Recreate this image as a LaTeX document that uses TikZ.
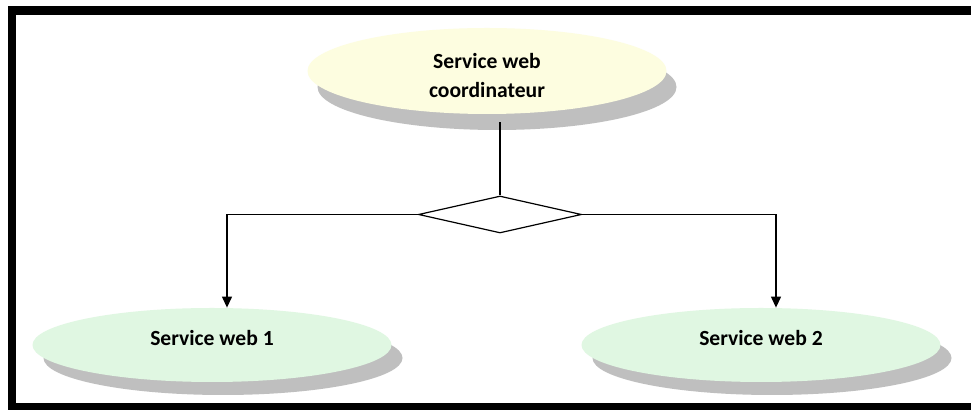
\documentclass[tikz,border=0pt]{standalone}
\usepackage{fontspec}
\setmainfont{Carlito}
\usetikzlibrary{shapes.geometric,shadows,arrows.meta}
\definecolor{coordfill}{RGB}{253,253,224}
\definecolor{servfill}{RGB}{224,247,226}
\definecolor{shadowgray}{RGB}{191,191,191}
\tikzset{
  svc/.style={ellipse, draw=none, inner sep=0pt, align=center,
    font=\fontsize{10.8}{14.5}\selectfont\bfseries},
  coord/.style={svc, fill=coordfill, minimum width=179.5pt, minimum height=43pt,
    drop shadow={shadow xshift=5pt, shadow yshift=-8pt, fill=shadowgray, opacity=1}},
  leaf/.style={svc, fill=servfill, minimum width=179.5pt, minimum height=37pt,
    text depth=7pt,
    drop shadow={shadow xshift=5.5pt, shadow yshift=-6.5pt, fill=shadowgray, opacity=1}},
  gate/.style={diamond, draw, line width=0.6pt, fill=white, inner sep=0pt,
    minimum width=81.5pt, minimum height=18.5pt},
  link/.style={line width=0.6pt},
  arrowlink/.style={link, -{Triangle[width=5pt,length=5.5pt]}}
}
\begin{document}
\begin{tikzpicture}[x=0.5pt,y=-0.5pt]
  \useasboundingbox (0,0) rectangle (971,410);
  \fill[white] (0,0) rectangle (971,410);
  % outer frame
  \draw[line width=4.4pt] (12,10.5) rectangle (1000,407.5);

  \node[coord] (top) at (487,71) {\rule{0pt}{11.6pt}Service web\\coordinateur};
  \node[gate] (dia) at (500,214.5) {};
  \node[leaf] (w1) at (212,345) {Service web 1};
  \node[leaf] (w2) at (761,345) {Service web 2};

  \draw[link] ([yshift=-4pt]top.south -| dia.north) -- (dia.north);
  \draw[arrowlink] (dia.west) -| ([xshift=7.5pt]w1.north);
  \draw[arrowlink] (dia.east) -| ([xshift=7.5pt]w2.north);
\end{tikzpicture}
\end{document}
